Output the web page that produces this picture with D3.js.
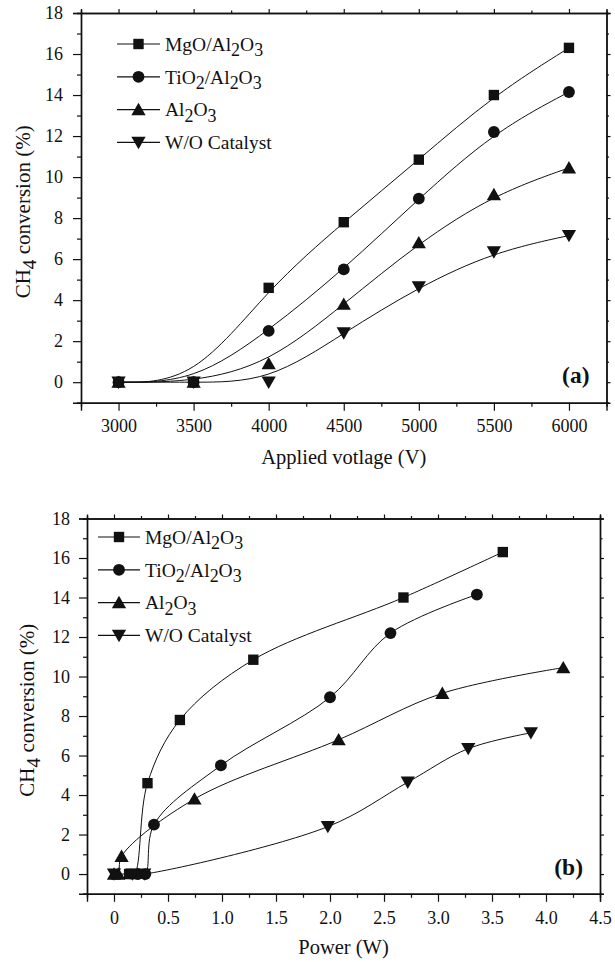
<!DOCTYPE html>
<html><head><meta charset="utf-8">
<script src="https://cdn.jsdelivr.net/npm/d3@7"></script>
<style>
body{margin:0;background:#fff;}
svg{display:block;}
text{font-family:"Liberation Serif","Times New Roman",serif;fill:#111;}
</style></head>
<body>
<svg id="chart" width="615" height="962"></svg>
<script>
// ---------- data ----------
const seriesNames = ["MgO/Al2O3", "TiO2/Al2O3", "Al2O3", "W/O Catalyst"];
const voltage = [3000, 3500, 4000, 4500, 5000, 5500, 6000];
const mgoConv = [0, 0, 4.6, 7.8, 10.85, 14.0, 16.3];
const tio2Conv = [0, 0, 2.5, 5.5, 8.95, 12.2, 14.15];
const al2o3Conv = [0, 0, 0.9, 3.8, 6.8, 9.15, 10.45];
const woConv = [0, 0, 0, 2.4, 4.65, 6.35, 7.15];
const mgoPower = [0.14, 0.19, 0.31, 0.61, 1.29, 2.68, 3.60];
const tio2Power = [0.22, 0.29, 0.37, 0.99, 2.00, 2.56, 3.36];
const al2o3Power = [0.00, 0.04, 0.07, 0.745, 2.08, 3.04, 4.16];
const woPower = [0.00, 0.17, 0.28, 1.98, 2.72, 3.28, 3.86];
const voltTicks = [3000, 3500, 4000, 4500, 5000, 5500, 6000];
const powerTicks = [0, 0.5, 1.0, 1.5, 2.0, 2.5, 3.0, 3.5, 4.0, 4.5];
const convTicks = [0, 2, 4, 6, 8, 10, 12, 14, 16, 18];

const svg = d3.select("#chart");
const symbols = [d3.symbolSquare, d3.symbolCircle, d3.symbolTriangle, d3.symbolTriangle];
const symSizes = [108, 110, 88, 88];
const symRot = [0, 0, 0, 180];

function marker(g, i, x, y) {
  g.append("path")
    .attr("d", d3.symbol().type(symbols[i]).size(symSizes[i])())
    .attr("transform", `translate(${x},${y}) rotate(${symRot[i]})` + (i >= 2 ? " translate(0,1.5)" : ""))
    .attr("fill", "#111");
}

function chemText(sel, name) {
  // digits become subscripts
  const parts = name.split(/(\d)/).filter(s => s.length);
  let shifted = false;
  parts.forEach(p => {
    if (/^\d$/.test(p)) {
      sel.append("tspan").attr("dy", 5.5).attr("font-size", "0.92em").text(p);
      shifted = true;
    } else {
      sel.append("tspan").attr("dy", shifted ? -5.5 : 0).text(p);
      shifted = false;
    }
  });
}

function panel(opt) {
  const g = svg.append("g");
  const x = d3.scaleLinear().domain(opt.xDomain).range([opt.left, opt.right]);
  const y = d3.scaleLinear().domain([-1, 18]).range([opt.bottom, opt.top]);

  const yMinor = d3.range(-1, 18, 2);
  g.append("g").attr("transform", `translate(0,${opt.bottom})`)
    .call(d3.axisBottom(x).tickValues(opt.xTicks).tickSize(8).tickPadding(9).tickFormat(opt.xFormat));
  g.append("g").attr("transform", `translate(0,${opt.bottom})`)
    .call(d3.axisBottom(x).tickValues(opt.xMinor).tickSize(4).tickFormat(""));
  g.append("g").attr("transform", `translate(0,${opt.top})`)
    .call(d3.axisTop(x).tickValues(opt.xTicks).tickSize(4).tickFormat(""));
  g.append("g").attr("transform", `translate(0,${opt.top})`)
    .call(d3.axisTop(x).tickValues(opt.xMinor).tickSize(2.5).tickFormat(""));
  g.append("g").attr("transform", `translate(${opt.left},0)`)
    .call(d3.axisLeft(y).tickValues(convTicks).tickSize(8).tickPadding(opt.yPad));
  g.append("g").attr("transform", `translate(${opt.left},0)`)
    .call(d3.axisLeft(y).tickValues(yMinor).tickSize(4).tickFormat(""));
  g.append("g").attr("transform", `translate(${opt.right},0)`)
    .call(d3.axisRight(y).tickValues(convTicks).tickSize(4).tickFormat(""));
  g.append("g").attr("transform", `translate(${opt.right},0)`)
    .call(d3.axisRight(y).tickValues(yMinor).tickSize(2.5).tickFormat(""));

  g.selectAll(".domain").attr("stroke", "#111").attr("stroke-width", 1.4);
  g.selectAll(".tick line").attr("stroke", "#111").attr("stroke-width", 1.2);
  g.selectAll(".tick text").attr("font-family", "Liberation Serif").attr("font-size", 18).attr("fill", "#111");

  opt.series.forEach((s) => {
    const pts = s.xs.map((v, k) => [x(v), y(s.ys[k])]);
    g.append("path").attr("d", d3.line().curve(opt.curve)(pts))
      .attr("fill", "none").attr("stroke", "#111").attr("stroke-width", 1);
  });
  opt.series.forEach((s, i) => {
    s.xs.forEach((v, k) => marker(g, i, x(v), y(s.ys[k])));
  });

  seriesNames.forEach((n, i) => {
    const cy = opt.legY + i * opt.legGap;
    g.append("line").attr("x1", opt.legX0).attr("x2", opt.legX1).attr("y1", cy).attr("y2", cy)
      .attr("stroke", "#111").attr("stroke-width", 1.2);
    marker(g, i, (opt.legX0 + opt.legX1) / 2, cy);
    const t = g.append("text").attr("x", opt.legX1 + 5).attr("y", cy + 6.7).attr("font-size", 19.5);
    chemText(t, n);
  });

  g.append("text").attr("x", opt.right - 17).attr("y", opt.labY).attr("text-anchor", "end")
    .attr("font-size", 23.5).attr("font-weight", "bold").text(opt.tag);

  g.append("text").attr("x", (opt.left + opt.right) / 2).attr("y", opt.xTitleY).attr("text-anchor", "middle")
    .attr("font-size", 20.5).text(opt.xTitle);
  const yt = g.append("text").attr("transform", `translate(${opt.yTitleX},${(opt.top + opt.bottom) / 2 + 4}) rotate(-90)`)
    .attr("text-anchor", "middle").attr("font-size", 21);
  yt.append("tspan").text("CH");
  yt.append("tspan").attr("dy", 5.5).attr("font-size", "0.92em").text("4");
  yt.append("tspan").attr("dy", -5.5).text(" conversion (%)");
}

panel({
  xDomain: [2750, 6250], left: 81, right: 606.5, top: 13, bottom: 402.7,
  xTicks: voltTicks, xMinor: [3250, 3750, 4250, 4750, 5250, 5750],
  xFormat: d3.format("d"), yPad: 10,
  curve: d3.curveBasis,
  series: [
    {xs: voltage, ys: mgoConv}, {xs: voltage, ys: tio2Conv},
    {xs: voltage, ys: al2o3Conv}, {xs: voltage, ys: woConv}
  ],
  legX0: 117, legX1: 160, legY: 44, legGap: 32.8,
  tag: "(a)", labY: 383, xTitle: "Applied votlage (V)", xTitleY: 464, yTitleX: 30
});

panel({
  xDomain: [-0.25, 4.5], left: 87, right: 600, top: 518.5, bottom: 893.8,
  xTicks: powerTicks, xMinor: [0.25, 0.75, 1.25, 1.75, 2.25, 2.75, 3.25, 3.75, 4.25],
  xFormat: d => d === 0 ? "0" : d3.format(".1f")(d), yPad: 9,
  curve: d3.curveCatmullRom.alpha(0.5),
  series: [
    {xs: mgoPower, ys: mgoConv}, {xs: tio2Power, ys: tio2Conv},
    {xs: al2o3Power, ys: al2o3Conv}, {xs: woPower, ys: woConv}
  ],
  legX0: 98, legX1: 140, legY: 537, legGap: 32.8,
  tag: "(b)", labY: 875, xTitle: "Power (W)", xTitleY: 954, yTitleX: 34
});
</script>
</body></html>
